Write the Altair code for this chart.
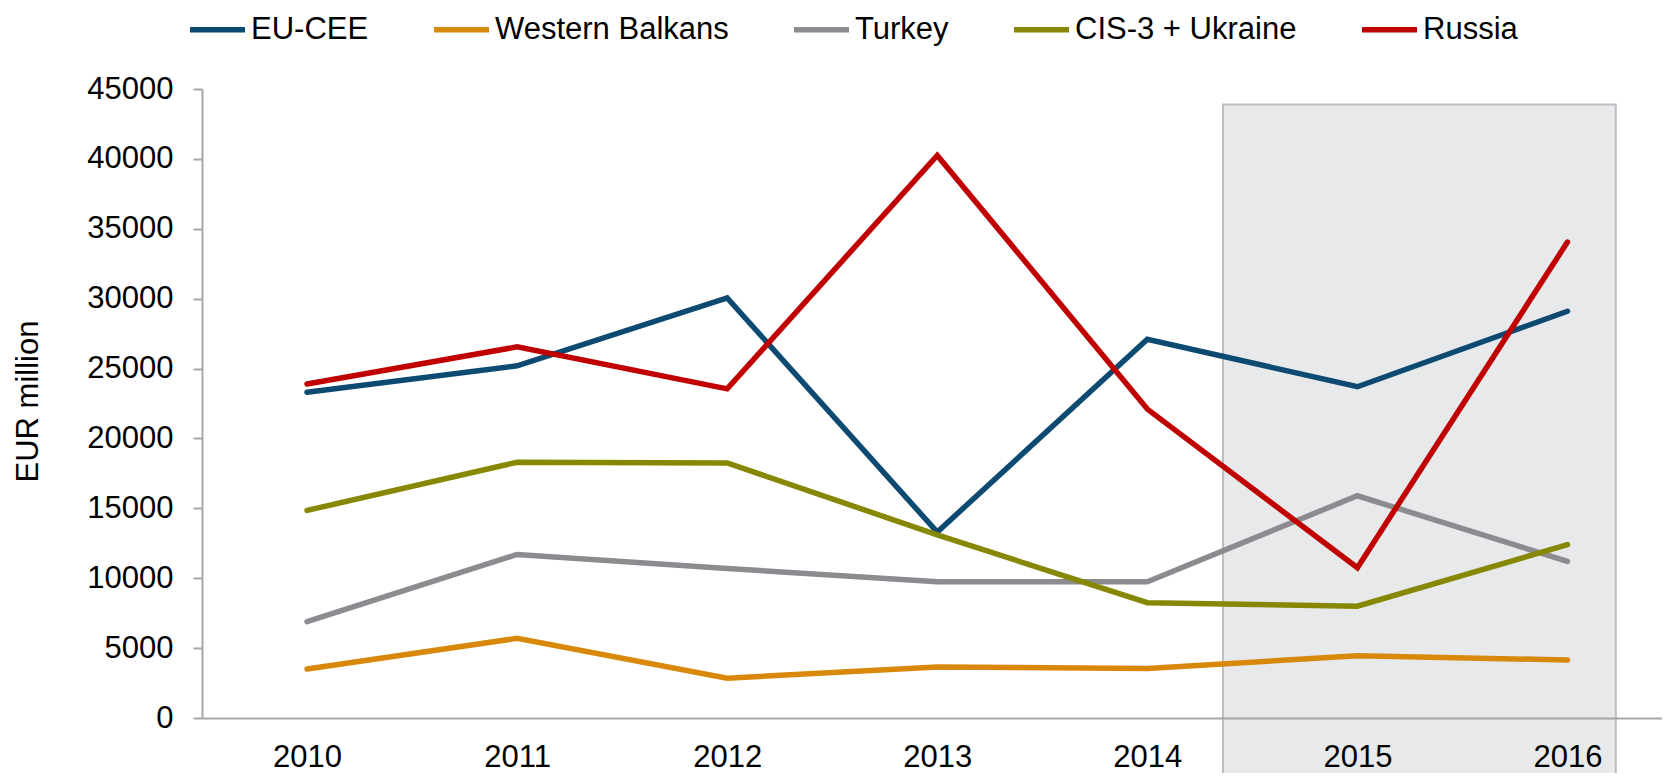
import altair as alt
import pandas as pd

years = [2010, 2011, 2012, 2013, 2014, 2015, 2016]
series_names = ["EU-CEE", "Western Balkans", "Turkey", "CIS-3 + Ukraine", "Russia"]
eu_cee = [23300, 25200, 30050, 13300, 27100, 23700, 29100]
western_balkans = [3500, 5700, 2850, 3650, 3550, 4450, 4150]
turkey = [6900, 11700, 10700, 9750, 9750, 15900, 11200]
cis3_ukraine = [14850, 18300, 18250, 13100, 8250, 8000, 12400]
russia = [23900, 26550, 23550, 40250, 22100, 10750, 34050]
colors = ["#0d4a72", "#d9890a", "#8c8c90", "#858800", "#c00000"]
y_ticks = list(range(0, 45001, 5000))

# shaded forecast region (in axis units)
highlight_start = 2014.36
highlight_end = 2016.23
highlight_top = 43900
highlight_bottom = -4300

rows = []
for name, vals in zip(series_names, [eu_cee, western_balkans, turkey, cis3_ukraine, russia]):
    for yr, v in zip(years, vals):
        rows.append({"year": yr, "value": v, "series": name})
df = pd.DataFrame(rows)

hl = pd.DataFrame({"x": [highlight_start], "x2": [highlight_end],
                   "y": [highlight_top], "y2": [highlight_bottom]})

FONT = "Liberation Sans"
FS = 31
x_scale = alt.Scale(domain=[2009.5, 2016.45], nice=False, zero=False)
y_scale = alt.Scale(domain=[0, 45000], nice=False)

x_axis = alt.Axis(values=years, format="d", ticks=False, labelPadding=24,
                  domainColor="#a6a6a6", domainWidth=2, labelFontSize=FS,
                  labelFont=FONT, labelColor="#000000", title=None, grid=False,
                  zindex=1, labelFlush=False)
y_axis = alt.Axis(values=y_ticks, format="d", tickSize=9, tickColor="#a6a6a6",
                  tickWidth=2, domainColor="#a6a6a6", domainWidth=2,
                  labelFontSize=FS, labelFont=FONT, labelColor="#000000",
                  labelPadding=20, grid=False, title="EUR million",
                  titleFontSize=FS, titleFont=FONT, titleFontWeight="normal",
                  titleColor="#000000", titleX=-158, titleY=312, titleAngle=270,
                  titleBaseline="bottom", titleAlign="center", zindex=1)

rect = alt.Chart(hl).mark_rect(fill="#e8e9eb", stroke="#bcbdc0", strokeWidth=2).encode(
    x=alt.X("x:Q", scale=x_scale, axis=x_axis),
    x2="x2:Q",
    y=alt.Y("y:Q", scale=y_scale, axis=y_axis),
    y2="y2:Q",
)

lines = alt.Chart(df).mark_line(strokeWidth=5.5, strokeCap="round").encode(
    x=alt.X("year:Q", scale=x_scale, axis=x_axis),
    y=alt.Y("value:Q", scale=y_scale, axis=y_axis),
    color=alt.Color("series:N",
                    scale=alt.Scale(domain=series_names, range=colors),
                    sort=series_names,
                    legend=alt.Legend(orient="none", legendX=-15, legendY=-90,
                                      direction="horizontal", title=None,
                                      symbolType="stroke", symbolSize=3025,
                                      symbolStrokeWidth=5.5, labelFontSize=FS,
                                      labelFont=FONT, labelColor="#000000",
                                      labelOffset=3, columnPadding=54,
                                      labelLimit=400, padding=0)),
    order=alt.Order("year:Q"),
)

chart = alt.layer(rect, lines).properties(
    width=1460, height=629,
    padding={"left": 194, "top": 81, "right": 0, "bottom": 55},
    autosize=alt.AutoSizeParams(type="none"),
).configure(font=FONT).configure_view(stroke=None, strokeWidth=0)

chart.save("out.html", embed_options={"renderer": "svg", "actions": False})
